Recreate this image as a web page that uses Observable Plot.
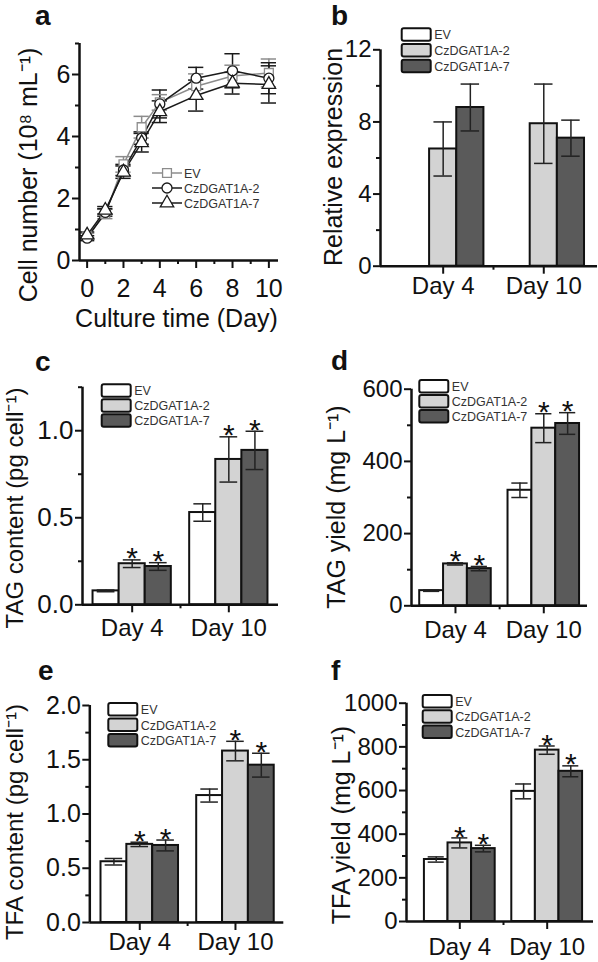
<!DOCTYPE html>
<html><head><meta charset="utf-8">
<script src="https://cdn.jsdelivr.net/npm/d3@7"></script>
<script src="https://cdn.jsdelivr.net/npm/@observablehq/plot@0.6"></script>
<style>
body{margin:0;background:#fff;}
#fig{position:relative;width:598px;height:962px;overflow:hidden;font-family:"Liberation Sans",Arial,sans-serif;background:#fff;}
#fig svg{position:absolute;}
</style></head><body><div id="fig"></div>
<script>
// ---------- data ----------
const lines = ["EV", "CzDGAT1A-2", "CzDGAT1A-7"];
const days = ["Day 4", "Day 10"];

// (a) growth curve
const cultureDays = [0, 1, 2, 3, 4, 6, 8, 10];
const cellEV     = [0.78, 1.50, 3.10, 4.30, 5.10, 5.62, 5.95, 6.05];
const cellEVErr  = [0.10, 0.15, 0.25, 0.35, 0.25, 0.40, 0.35, 0.45];
const cellA2     = [0.72, 1.55, 2.92, 3.95, 5.05, 5.88, 6.12, 5.88];
const cellA2Err  = [0.08, 0.12, 0.18, 0.20, 0.45, 0.35, 0.55, 0.50];
const cellA7     = [0.82, 1.62, 2.85, 3.80, 4.80, 5.32, 5.72, 5.68];
const cellA7Err  = [0.10, 0.12, 0.20, 0.30, 0.35, 0.50, 0.35, 0.60];

// (b) relative expression  rows: lines, cols: days
const exprMean = [[0, 0], [6.5, 7.9], [8.8, 7.1]];
const exprErr  = [[0, 0], [1.5, 2.2], [1.3, 1.0]];

// (c) TAG content
const tagContMean = [[0.080, 0.530], [0.236, 0.835], [0.220, 0.887]];
const tagContErr  = [[0.005, 0.050], [0.022, 0.130], [0.022, 0.110]];
const tagContSig  = [[0, 0], [1, 1], [1, 1]];

// (d) TAG yield
const tagYieldMean = [[42, 320], [116, 492], [103, 505]];
const tagYieldErr  = [[2, 20], [3, 40], [6, 30]];
const tagYieldSig  = [[0, 0], [1, 1], [1, 1]];

// (e) TFA content
const tfaContMean = [[0.56, 1.17], [0.72, 1.58], [0.71, 1.45]];
const tfaContErr  = [[0.03, 0.06], [0.02, 0.09], [0.05, 0.11]];
const tfaContSig  = [[0, 0], [1, 1], [1, 1]];

// (f) TFA yield
const tfaYieldMean = [[284, 596], [360, 785], [334, 688]];
const tfaYieldErr  = [[12, 34], [23, 19], [15, 25]];
const tfaYieldSig  = [[0, 0], [1, 1], [1, 1]];

// ---------- helpers ----------
const FONT = '"Liberation Sans", Arial, sans-serif';
const fig = document.getElementById("fig");
const barFills = ["#ffffff", "#d3d3d3", "#5a5a5a"];
const INK = "#111";
const intFmt = d3.format("d");
const oneDec = d3.format(".1f");

function margins(box, fr) {
  return {
    marginLeft: fr.x1 - box.x, marginRight: box.x + box.w - fr.x2,
    marginTop: fr.y1 - box.y, marginBottom: box.y + box.h - fr.y2
  };
}
function place(node, box) {
  node.style.left = box.x + "px";
  node.style.top = box.y + "px";
  fig.appendChild(node);
}

function barPanel(o) {
  const bw = 0.27;
  const rows = lines.flatMap((s, si) => days.map((d, di) => ({
    s, si, di, v: o.mean[si][di], e: o.err[si][di], sig: o.sig ? o.sig[si][di] : 0
  })));
  const cx = d => d.di + 1 + (d.si - 1) * bw;
  const cap = bw * 0.34;
  const withErr = rows.filter(d => d.e > 0);
  const majors = days.map((d, i) => i + 1);
  const bounds = days.slice(1).map((d, i) => i + 1.5);
  const node = Plot.plot({
    width: o.box.w, height: o.box.h, ...margins(o.box, o.frame),
    style: {background: "transparent", overflow: "visible", fontFamily: FONT, color: INK},
    x: {type: "linear", domain: o.xDomain},
    y: {domain: o.yDomain},
    color: {domain: lines, range: barFills},
    marks: [
      Plot.rectY(rows.filter(d => d.v > 0), {
        x1: d => cx(d) - bw / 2, x2: d => cx(d) + bw / 2, y: "v",
        fill: "s", stroke: INK, strokeWidth: 2
      }),
      Plot.ruleX(withErr, {x: cx, y1: d => d.v - d.e, y2: d => d.v + d.e, stroke: "#222", strokeWidth: 1.5}),
      Plot.ruleY(withErr, {y: d => d.v + d.e, x1: d => cx(d) - cap, x2: d => cx(d) + cap, stroke: "#222", strokeWidth: 1.5}),
      Plot.ruleY(withErr, {y: d => d.v - d.e, x1: d => cx(d) - cap, x2: d => cx(d) + cap, stroke: "#222", strokeWidth: 1.5}),
      Plot.text(rows.filter(d => d.sig), {x: cx, y: d => d.v + d.e, text: () => "*", fontSize: 30, dy: -1, fill: INK}),
      Plot.ruleY([o.yDomain[0]], {stroke: INK, strokeWidth: 2.5}),
      Plot.ruleX([o.xDomain[0]], {stroke: INK, strokeWidth: 2.5}),
      Plot.axisY({ticks: o.yTicks, tickFormat: o.yFormat || intFmt, tickSize: 7, tickPadding: 2, fontSize: o.yFont, strokeWidth: 2, label: null}),
      Plot.axisY({ticks: o.yMinor, tickFormat: () => "", tickSize: 4, strokeWidth: 2, label: null}),
      Plot.axisX({ticks: majors, tickFormat: i => days[i - 1], tickSize: 8, tickPadding: o.xPad, fontSize: o.xFont, strokeWidth: 2, label: null}),
      Plot.axisX({ticks: bounds, tickFormat: () => "", tickSize: 4, strokeWidth: 2, label: null})
    ]
  });
  place(node, o.box);
}

// ---------- panel a ----------
(function () {
  const box = {x: 0, y: 0, w: 299, h: 340};
  const frame = {x1: 79, x2: 278, y1: 43, y2: 260};
  const means = [cellEV, cellA2, cellA7], errs = [cellEVErr, cellA2Err, cellA7Err];
  const rows = lines.flatMap((s, si) => cultureDays.map((t, i) => ({s, t, v: means[si][i], e: errs[si][i]})));
  const cap = 0.42;
  const node = Plot.plot({
    width: box.w, height: box.h, ...margins(box, frame),
    style: {background: "transparent", overflow: "visible", fontFamily: FONT, color: INK},
    x: {domain: [-0.42, 10.53]},
    y: {domain: [0, 7]},
    color: {domain: lines, range: ["#8c8c8c", "#1a1a1a", "#1a1a1a"]},
    symbol: {domain: lines, range: ["square", "circle", "triangle"]},
    marks: [
      Plot.ruleX(rows, {x: "t", y1: d => d.v - d.e, y2: d => d.v + d.e, stroke: "s", strokeWidth: 1.5}),
      Plot.ruleY(rows, {y: d => d.v + d.e, x1: d => d.t - cap, x2: d => d.t + cap, stroke: "s", strokeWidth: 1.5}),
      Plot.ruleY(rows, {y: d => d.v - d.e, x1: d => d.t - cap, x2: d => d.t + cap, stroke: "s", strokeWidth: 1.5}),
      Plot.line(rows, {x: "t", y: "v", z: "s", stroke: "s", strokeWidth: 1.5}),
      Plot.dot(rows, {x: "t", y: "v", symbol: "s", r: 5, fill: "white", stroke: "s", strokeWidth: 1.3}),
      Plot.ruleY([0], {stroke: INK, strokeWidth: 2.5}),
      Plot.ruleX([-0.42], {stroke: INK, strokeWidth: 2.5}),
      Plot.axisY({ticks: [0, 2, 4, 6], tickFormat: intFmt, tickSize: 7, tickPadding: 2, fontSize: 25, strokeWidth: 2, label: null}),
      Plot.axisY({ticks: [1, 3, 5, 7], tickFormat: () => "", tickSize: 4, strokeWidth: 2, label: null}),
      Plot.axisX({ticks: [0, 2, 4, 6, 8, 10], tickFormat: intFmt, tickSize: 8, tickPadding: 11, fontSize: 25, strokeWidth: 2, label: null}),
      Plot.axisX({ticks: [1, 3, 5, 7, 9], tickFormat: () => "", tickSize: 4, strokeWidth: 2, label: null})
    ]
  });
  place(node, box);
})();

// ---------- bar panels ----------
barPanel({box: {x: 299, y: 0, w: 299, h: 340}, frame: {x1: 380, x2: 597, y1: 49.3, y2: 265.7},
  xDomain: [0.377, 2.534], yDomain: [0, 12], yTicks: [0, 4, 8, 12], yMinor: [2, 6, 10],
  mean: exprMean, err: exprErr, sig: null, yFont: 24, xFont: 24, xPad: 3});

barPanel({box: {x: 0, y: 340, w: 299, h: 310}, frame: {x1: 82, x2: 278, y1: 386.7, y2: 604.3},
  xDomain: [0.486, 2.514], yDomain: [0, 1.25], yTicks: [0, 0.5, 1.0], yMinor: [0.25, 0.75, 1.25],
  yFormat: oneDec, mean: tagContMean, err: tagContErr, sig: tagContSig, yFont: 26, xFont: 24, xPad: 6});

barPanel({box: {x: 299, y: 340, w: 299, h: 310}, frame: {x1: 411, x2: 587, y1: 388.7, y2: 605.3},
  xDomain: [0.502, 2.495], yDomain: [0, 600], yTicks: [0, 200, 400, 600], yMinor: [100, 300, 500],
  mean: tagYieldMean, err: tagYieldErr, sig: tagYieldSig, yFont: 24, xFont: 24, xPad: 7});

barPanel({box: {x: 0, y: 650, w: 299, h: 312}, frame: {x1: 89.3, x2: 283.3, y1: 705, y2: 922},
  xDomain: [0.478, 2.505], yDomain: [0, 2], yTicks: [0, 0.5, 1.0, 1.5, 2.0], yMinor: [0.25, 0.75, 1.25, 1.75],
  yFormat: oneDec, mean: tfaContMean, err: tfaContErr, sig: tfaContSig, yFont: 25, xFont: 24, xPad: 2});

barPanel({box: {x: 299, y: 650, w: 299, h: 312}, frame: {x1: 406, x2: 593, y1: 702.7, y2: 921},
  xDomain: [0.39, 2.53], yDomain: [0, 1000], yTicks: [0, 200, 400, 600, 800, 1000], yMinor: [100, 300, 500, 700, 900],
  mean: tfaYieldMean, err: tfaYieldErr, sig: tfaYieldSig, yFont: 24, xFont: 24, xPad: 8});

// ---------- overlay: panel letters, axis titles, legends ----------
const ov = d3.create("svg").attr("width", 598).attr("height", 962)
  .style("left", "0px").style("top", "0px").style("pointer-events", "none")
  .attr("font-family", FONT);

const letters = [["a", 35, 25], ["b", 331, 25], ["c", 35, 371], ["d", 331, 370], ["e", 38, 680], ["f", 331, 680]];
ov.selectAll("text.lt").data(letters).join("text").attr("class", "lt")
  .attr("x", d => d[1]).attr("y", d => d[2]).attr("font-size", 28).attr("font-weight", "bold").attr("fill", INK).text(d => d[0]);

const ytitles = [
  ["Cell number (10⁸ mL⁻¹)", 37, 175, 25],
  ["Relative expression", 342, 157, 25],
  ["TAG content (pg cell⁻¹)", 22.5, 508, 24],
  ["TAG yield (mg L⁻¹)", 345, 507, 25],
  ["TFA content (pg cell⁻¹)", 22.5, 822, 24],
  ["TFA yield (mg L⁻¹)", 350, 825, 25]
];
ov.selectAll("text.yt").data(ytitles).join("text").attr("class", "yt")
  .attr("transform", d => `translate(${d[1]},${d[2]}) rotate(-90)`)
  .attr("text-anchor", "middle").attr("font-size", d => d[3]).attr("fill", INK).text(d => d[0]);

ov.append("text").attr("x", 176.5).attr("y", 327).attr("text-anchor", "middle")
  .attr("font-size", 25).attr("fill", INK).text("Culture time (Day)");

// legend (a)
const symTypes = [d3.symbolSquare, d3.symbolCircle, d3.symbolTriangle];
const symColors = ["#8c8c8c", "#1a1a1a", "#1a1a1a"];
lines.forEach((s, i) => {
  const y = 173 + i * 15;
  const g = ov.append("g");
  g.append("line").attr("x1", 152).attr("x2", 182).attr("y1", y).attr("y2", y).attr("stroke", symColors[i]).attr("stroke-width", 1.5);
  g.append("path").attr("d", d3.symbol(symTypes[i], Math.PI * 25)).attr("transform", `translate(167,${y})`)
    .attr("fill", "white").attr("stroke", symColors[i]).attr("stroke-width", 1.3);
  g.append("text").attr("x", 184).attr("y", y + 4.5).attr("font-size", 12.5).attr("fill", "#333").text(s);
});

// bar legends
const barLegends = [[401.7, 28.3, 15.7], [101.7, 384.3, 15], [419.3, 380, 15], [108.3, 703, 15.5], [422.7, 695, 15.3]];
barLegends.forEach(([x, y0, step]) => {
  lines.forEach((s, i) => {
    const y = y0 + i * step;
    ov.append("rect").attr("x", x).attr("y", y).attr("width", 29).attr("height", 12.5).attr("rx", 2)
      .attr("fill", barFills[i]).attr("stroke", INK).attr("stroke-width", 2);
    ov.append("text").attr("x", x + 32.5).attr("y", y + 11).attr("font-size", 12.5).attr("fill", "#333").text(s);
  });
});

fig.appendChild(ov.node());
ov.node().style.left = "0px";
ov.node().style.top = "0px";
</script>
</body></html>
